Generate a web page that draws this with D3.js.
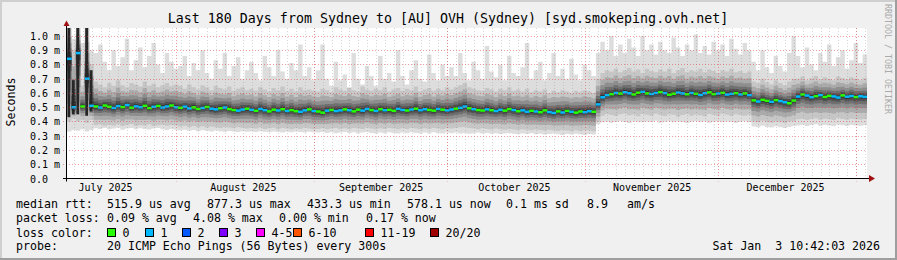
<!DOCTYPE html>
<html>
<head>
<meta charset="utf-8">
<script src="https://cdn.jsdelivr.net/npm/d3@7"></script>
<style>
body { margin: 0; background: #f0f0f0; }
svg { display: block; }
text { font-family: "DejaVu Sans Mono", monospace; fill: #000; }
</style>
</head>
<body>
<div id="graph"></div>
<script>
// 180 days ending at the graph time, one value per day (values in us)
const endTime = Date.UTC(2026, 0, 3, 10, 42, 3);
const DAY = 864e5;
const startTime = endTime - 180 * DAY;

// median rtt per day
const med = [
  840, 500, 880, 505, 700, 510,
  505, 498, 512, 503, 495, 508, 501, 515, 497, 506, 500, 510, 494, 503, 509, 498, 505, 512, 500,
  496, 504, 492, 499, 488, 495, 502, 490, 485, 493, 498, 487, 480, 476, 484, 490,
  482, 475, 488, 479, 471, 483, 477, 486, 474, 480, 472, 468, 478, 485, 473,
  470, 462, 476, 481, 473, 478, 485, 479, 471, 483, 476, 488, 480, 474, 486, 479, 482, 475, 489, 481, 477, 484, 490, 479, 486, 481, 476, 488, 483, 478,
  484, 490, 496, 505, 493, 486, 480, 477, 485, 479, 473, 482, 476, 487, 480, 472, 478, 468, 475, 470, 465, 478, 466, 460, 471, 463, 474, 468, 462, 470, 465, 472, 468,
  520, 570, 585, 592, 600, 596, 605, 598, 590, 602, 608, 597, 593, 600, 606, 599, 588, 595, 603, 597, 591, 600, 594, 586, 598, 604, 592, 596, 601, 589, 594, 599, 590, 597, 585,
  548, 540, 552, 545, 538, 550, 543, 535, 528, 547,
  575, 590, 582, 570, 578, 585, 572, 580, 576, 568, 583, 574, 579, 571, 577, 573
];
// lost pings per day (out of 20)
const loss = [
  1, 1, 1, 0, 1, 1,
  0, 1, 0, 0, 1, 1, 0, 1, 0, 1, 1, 0, 0, 1, 0, 1, 1, 0, 1,
  0, 1, 1, 0, 0, 1, 0, 1, 1, 0, 1, 0, 0, 1, 1, 0,
  1, 0, 1, 1, 0, 0, 1, 0, 1, 0, 0, 1, 1, 0, 1,
  0, 0, 1, 0, 1, 1, 0, 1, 0, 0, 1, 1, 0, 1, 0, 1, 0, 0, 1, 1, 0, 1, 0, 1, 1, 0, 0, 1, 0, 1,
  1, 0, 1, 1, 0, 1, 0, 0, 1, 0, 1, 1, 0, 0, 1, 0, 1, 1, 0, 1, 0, 0, 1, 1, 0, 1, 0, 1, 0, 0, 1, 1, 0,
  1, 1, 1, 0, 1, 0, 1, 1, 0, 0, 1, 0, 1, 1, 0, 1, 0, 0, 1, 1, 0, 1, 0, 1, 1, 0, 0, 1, 0, 1, 1, 0, 1, 0, 1,
  0, 1, 0, 0, 1, 0, 1, 1, 0, 0,
  1, 0, 1, 1, 0, 1, 0, 0, 1, 1, 0, 1, 1, 0, 1, 1
];
// highest ping (top of the light smoke)
const hi = [
  1060, 980, 1060, 950, 1060, 900,
  880, 940, 820, 760, 900, 790, 850, 980, 760, 830, 920, 780, 860, 950, 800, 740, 880, 820, 770,
  790, 860, 720, 810, 760, 900, 740, 700, 830, 770, 880, 720, 790, 850, 700, 760,
  820, 740, 690, 860, 780, 720, 900, 750, 700, 810, 760, 940, 720, 780, 690,
  760, 940, 700, 650, 820, 690, 730, 640, 880, 700, 660, 790, 720, 650, 860, 700, 740, 680, 900, 720, 660, 760, 830, 700, 680, 870, 740, 690, 800, 720,
  780, 720, 880, 740, 690, 820, 760, 700, 930, 750, 710, 800, 690, 860, 740, 720, 780, 950, 700, 760, 820, 690, 740, 880, 720, 770, 700, 840, 730, 690, 800, 760, 720,
  880, 960, 900, 1000, 860, 940, 880, 980, 920, 860, 1000, 900, 940, 870, 960, 900, 880, 990, 920, 860, 940, 900, 1010, 880, 930, 870, 960, 900, 940, 860, 980, 910, 870, 950, 900,
  820, 760, 900, 780, 740, 860, 790, 750, 880, 1000,
  860, 780, 920, 800, 760, 880, 820, 940, 790, 850, 900, 770, 830, 950, 810, 870
];
// upper edge of the dense smoke
const up = [
  1060, 900, 1060, 650, 1060, 800,
  680, 660, 640, 670, 650, 690, 655, 640, 670, 660, 645, 680, 650, 665, 640, 655, 670, 648, 660,
  650, 630, 660, 640, 625, 655, 640, 620, 650, 635, 625, 645, 615, 630, 640, 620,
  630, 615, 640, 625, 610, 635, 620, 645, 615, 630, 610, 640, 620, 625, 615,
  610, 630, 620, 605, 640, 625, 615, 635, 620, 610, 645, 625, 615, 630, 620, 640, 610, 625, 635, 615, 630, 620, 645, 610, 625, 635, 615, 630, 620, 640,
  625, 640, 655, 670, 640, 630, 620, 615, 635, 625, 610, 630, 620, 640, 615, 625, 610, 630, 605, 620, 610, 625, 600, 615, 605, 620, 610, 600, 615, 605, 620, 610, 600,
  700, 740, 760, 750, 770, 745, 760, 775, 750, 765, 740, 770, 755, 745, 765, 750, 770, 740, 760, 775, 745, 760, 750, 770, 745, 765, 755, 740, 760, 750, 770, 745, 755, 740, 750,
  680, 670, 700, 675, 660, 690, 670, 655, 680, 700,
  700, 715, 690, 705, 720, 695, 710, 700, 690, 715, 705, 695, 710, 700, 690, 705
];
// lower edge of the dense smoke
const dn = [
  400, 420, 400, 410, 390, 410,
  375, 380, 370, 378, 372, 380, 368, 375, 382, 370, 376, 372, 380, 368, 374, 378, 370, 376, 372,
  365, 370, 362, 368, 360, 366, 358, 364, 360, 355, 362, 358, 352, 360, 356, 350,
  355, 350, 358, 348, 352, 356, 346, 354, 350, 345, 352, 348, 356, 350, 346,
  348, 352, 345, 350, 355, 348, 352, 346, 354, 350, 348, 356, 350, 345, 352, 348, 354, 350, 346, 352, 348, 355, 350, 346, 352, 348, 354, 350, 346, 352,
  350, 355, 360, 362, 354, 350, 346, 352, 348, 344, 350, 346, 342, 348, 344, 340, 346, 342, 338, 344, 340, 336, 342, 338, 334, 340, 336, 332, 338, 334, 340, 336, 332,
  400, 440, 452, 445, 438, 450, 456, 443, 449, 436, 452, 447, 441, 455, 446, 439, 451, 448, 434, 446, 453, 440, 449, 444, 437, 452, 446, 441, 455, 448, 438, 450, 445, 440, 448,
  400, 395, 405, 398, 392, 402, 396, 390, 400, 404,
  415, 420, 410, 418, 422, 412, 420, 416, 410, 424, 418, 412, 420, 416, 414, 418
];
// lowest ping (bottom of the light smoke)
const lo = [
  330, 340, 335, 345, 330, 340,
  352, 348, 355, 345, 350, 356, 342, 350, 354, 346, 352, 348, 344, 350, 355, 346, 340, 348, 342,
  338, 342, 335, 340, 332, 338, 335, 330, 336, 332, 328, 334, 330, 326, 332, 328,
  330, 326, 332, 328, 324, 330, 326, 322, 328, 324, 330, 326, 322, 328, 324,
  322, 326, 320, 324, 318, 322, 326, 320, 324, 318, 322, 326, 320, 316, 322, 318, 324, 320, 316, 322, 318, 324, 320, 316, 322, 318, 324, 320, 316, 322,
  318, 322, 316, 320, 314, 318, 322, 316, 320, 314, 318, 312, 316, 320, 314, 310, 316, 312, 318, 310, 314, 308, 312, 316, 310, 306, 312, 308, 314, 310, 306, 312, 308,
  380, 395, 400, 392, 398, 404, 396, 390, 402, 398, 394, 400, 396, 405, 392, 398, 402, 394, 400, 396, 390, 398, 404, 396, 400, 392, 398, 402, 394, 400, 396, 390, 398, 402, 395,
  365, 360, 370, 362, 358, 366, 360, 355, 362, 368,
  372, 378, 368, 375, 380, 370, 376, 372, 366, 378, 374, 368, 376, 372, 370, 374
];

// early July bursts where the whole ping range went dark
const burstDay = [0, 1, 2, 4, 5];
const burstLo = [430, 450, 450, 440, 470];
const burstHi = [1060, 690, 1060, 1060, 760];

const yTicks = [0, 100, 200, 300, 400, 500, 600, 700, 800, 900, 1000];
const monthLabels = ['July 2025', 'August 2025', 'September 2025', 'October 2025', 'November 2025', 'December 2025'];
const monthMid = ['2025-07-16', '2025-08-16', '2025-09-16', '2025-10-16', '2025-11-16', '2025-12-16'];
const monthStarts = ['2025-08-01', '2025-09-01', '2025-10-01', '2025-11-01', '2025-12-01', '2026-01-01'];

const lossLabels = ['0', '1', '2', '3', '4-5', '6-10', '11-19', '20/20'];
const lossColors = ['#26ff00', '#00b8ff', '#0059ff', '#7e00ff', '#ff00ff', '#ff5500', '#ff0000', '#a10000'];

const rttStats = ['median rtt:', '515.9 us avg', '877.3 us max', '433.3 us min', '578.1 us now', '0.1 ms sd', '8.9', 'am/s'];
const lossStats = ['packet loss:', '0.09 % avg', '4.08 % max', '0.00 % min', '0.17 % now'];
const probeText = ['probe:', '20 ICMP Echo Pings (56 Bytes) every 300s'];
const title = 'Last 180 Days from Sydney to [AU] OVH (Sydney) [syd.smokeping.ovh.net]';
const stamp = 'Sat Jan  3 10:42:03 2026';

const W = 897, H = 260;
const L = 67, R = 867, T = 28, B = 178.5;

const svg = d3.select('#graph').append('svg').attr('width', W).attr('height', H);

// background + 3d frame
svg.append('rect').attr('width', W).attr('height', H).attr('fill', '#f0f0f0');
svg.append('path').attr('d', `M1,${H}V1H${W}`).attr('fill', 'none').attr('stroke', '#cfcfcf').attr('stroke-width', 2);
svg.append('path').attr('d', `M0,${H - 1}H${W - 1}V0`).attr('fill', 'none').attr('stroke', '#9e9e9e').attr('stroke-width', 2);

svg.append('rect').attr('x', L).attr('y', T).attr('width', R - L).attr('height', B - T).attr('fill', '#fff');

const x = d3.scaleUtc().domain([startTime, endTime]).range([L, R]);
const y = d3.scaleLinear().domain([0, 1056]).range([B, T]);

svg.append('clipPath').attr('id', 'plot')
  .append('rect').attr('x', L).attr('y', T).attr('width', R - L).attr('height', B - T);

const plot = svg.append('g').attr('clip-path', 'url(#plot)');

// one point per day edge, step curve
const pts = d3.range(181).map(i => ({ t: startTime + i * DAY, k: Math.min(i, 179) }));

const area = (f0, f1) => d3.area()
  .curve(d3.curveStepAfter)
  .x(d => x(d.t))
  .y0(d => y(f0(d.k)))
  .y1(d => y(f1(d.k)));

// light smoke
plot.append('path').datum(pts).attr('fill', '#dddddd')
  .attr('d', area(k => lo[k], k => hi[k]));

// denser smoke, darker towards the median
const fracs = [1, 0.72, 0.5, 0.33, 0.2, 0.1];
const shades = ['#c6c6c6', '#aaaaaa', '#8e8e8e', '#707070', '#525252', '#363636'];
fracs.forEach((f, j) => {
  plot.append('path').datum(pts).attr('fill', shades[j])
    .attr('d', area(k => med[k] - (med[k] - dn[k]) * f, k => med[k] + (up[k] - med[k]) * f));
});

// dark bursts
const dayW = x(startTime + DAY) - x(startTime);
plot.selectAll('rect.burst').data(burstDay).enter().append('rect')
  .attr('class', 'burst')
  .attr('x', d => x(startTime + d * DAY) + dayW * 0.1)
  .attr('width', dayW * 0.65)
  .attr('y', (d, i) => y(burstHi[i]))
  .attr('height', (d, i) => y(burstLo[i]) - y(burstHi[i]))
  .attr('fill', '#262626');

// median, coloured by loss
plot.selectAll('rect.med').data(med).enter().append('rect')
  .attr('class', 'med')
  .attr('x', (d, i) => x(startTime + i * DAY))
  .attr('width', dayW + 0.3)
  .attr('y', d => y(d) - 1.25)
  .attr('height', 2.5)
  .attr('fill', (d, i) => lossColors[loss[i]]);

// grid on top
const grid = svg.append('g').attr('fill', 'none').attr('stroke-width', 1);
let d0 = Math.ceil(startTime / DAY);
if (d0 % 2) d0++;
for (let d = d0; d * DAY < endTime; d += 2) {
  const xx = Math.round(x(d * DAY)) + 0.5;
  grid.append('line').attr('x1', xx).attr('x2', xx).attr('y1', T).attr('y2', B + 2)
    .attr('stroke', 'rgba(130,130,130,0.32)').attr('stroke-dasharray', '1,2');
}
yTicks.slice(1).forEach(v => {
  const yy = Math.round(y(v)) + 0.5;
  grid.append('line').attr('x1', L - 4).attr('x2', R).attr('y1', yy).attr('y2', yy)
    .attr('stroke', 'rgba(230,60,60,0.5)').attr('stroke-dasharray', '1,2');
});
monthStarts.forEach(s => {
  const xx = Math.round(x(new Date(s + 'T00:00:00Z'))) + 0.5;
  grid.append('line').attr('x1', xx).attr('x2', xx).attr('y1', T).attr('y2', B + 3)
    .attr('stroke', 'rgba(230,60,60,0.5)').attr('stroke-dasharray', '1,2');
});

// axes lines and arrows
svg.append('line').attr('x1', L - 4).attr('x2', R + 3).attr('y1', B).attr('y2', B)
  .attr('stroke', '#000');
svg.append('line').attr('x1', L - 0.5).attr('x2', L - 0.5).attr('y1', B + 3).attr('y2', T - 3)
  .attr('stroke', '#000');
svg.append('path').attr('d', `M${R + 2},${B - 3.5}L${R + 8},${B}L${R + 2},${B + 3.5}Z`).attr('fill', '#a01010');
svg.append('path').attr('d', `M${L - 3.5},26L${L - 0.5},20.5L${L + 2.5},26Z`).attr('fill', '#a01010');

// month labels
const xAxis = d3.axisBottom(x)
  .tickValues(monthMid.map(s => new Date(s + 'T00:00:00Z')))
  .tickFormat((d, i) => monthLabels[i])
  .tickSize(0).tickPadding(5.5);
svg.append('g').attr('transform', `translate(0,${B})`).call(xAxis)
  .call(g => g.select('.domain').remove())
  .selectAll('text')
  .attr('font-family', '"DejaVu Sans Mono", monospace').attr('font-size', 10);

// value labels
const yAxis = d3.axisLeft(y)
  .tickValues(yTicks)
  .tickFormat(v => v === 0 ? '0.0' : (v / 1000).toFixed(1) + ' m')
  .tickSize(0);
svg.append('g').attr('transform', `translate(${L},0)`).call(yAxis)
  .call(g => g.select('.domain').remove())
  .selectAll('text')
  .attr('x', 30 - L).attr('text-anchor', 'start').attr('dy', '0.35em')
  .attr('font-family', '"DejaVu Sans Mono", monospace').attr('font-size', 10);

// title and side labels
svg.append('text').attr('x', 448).attr('y', 23).attr('text-anchor', 'middle')
  .attr('font-size', 13.3).text(title);
svg.append('text').attr('transform', 'translate(15,102) rotate(-90)').attr('text-anchor', 'middle')
  .attr('font-size', 11.6).text('Seconds');
svg.append('text').attr('transform', 'translate(885,4) rotate(90)')
  .attr('font-size', 8.3).style('fill', '#aaaaaa').text('RRDTOOL / TOBI OETIKER');

// legend
const FS = 11.6;
const rttX = [16, 107, 207, 307, 407, 506, 587, 627];
rttStats.forEach((s, i) => svg.append('text').attr('x', rttX[i]).attr('y', 208).attr('font-size', FS).text(s));
const lossX = [16, 107, 193, 279, 366];
lossStats.forEach((s, i) => svg.append('text').attr('x', lossX[i]).attr('y', 222).attr('font-size', FS).text(s));

svg.append('text').attr('x', 16).attr('y', 236.5).attr('font-size', FS).text('loss color:');
const boxX = [107.5, 145.5, 182.5, 219.5, 256.5, 293.5, 365.5, 430.5];
lossLabels.forEach((s, i) => {
  svg.append('rect').attr('x', boxX[i]).attr('y', 228.5).attr('width', 8).attr('height', 8)
    .attr('fill', lossColors[i]).attr('stroke', '#000').attr('stroke-width', 1);
  svg.append('text').attr('x', boxX[i] + 15).attr('y', 236.5).attr('font-size', FS).text(s);
});

svg.append('text').attr('x', 16).attr('y', 250).attr('font-size', FS).text(probeText[0]);
svg.append('text').attr('x', 107).attr('y', 250).attr('font-size', FS).text(probeText[1]);
svg.append('text').attr('x', 880).attr('y', 250).attr('text-anchor', 'end')
  .attr('font-size', FS).style('white-space', 'pre').text(stamp);
</script>
</body>
</html>
